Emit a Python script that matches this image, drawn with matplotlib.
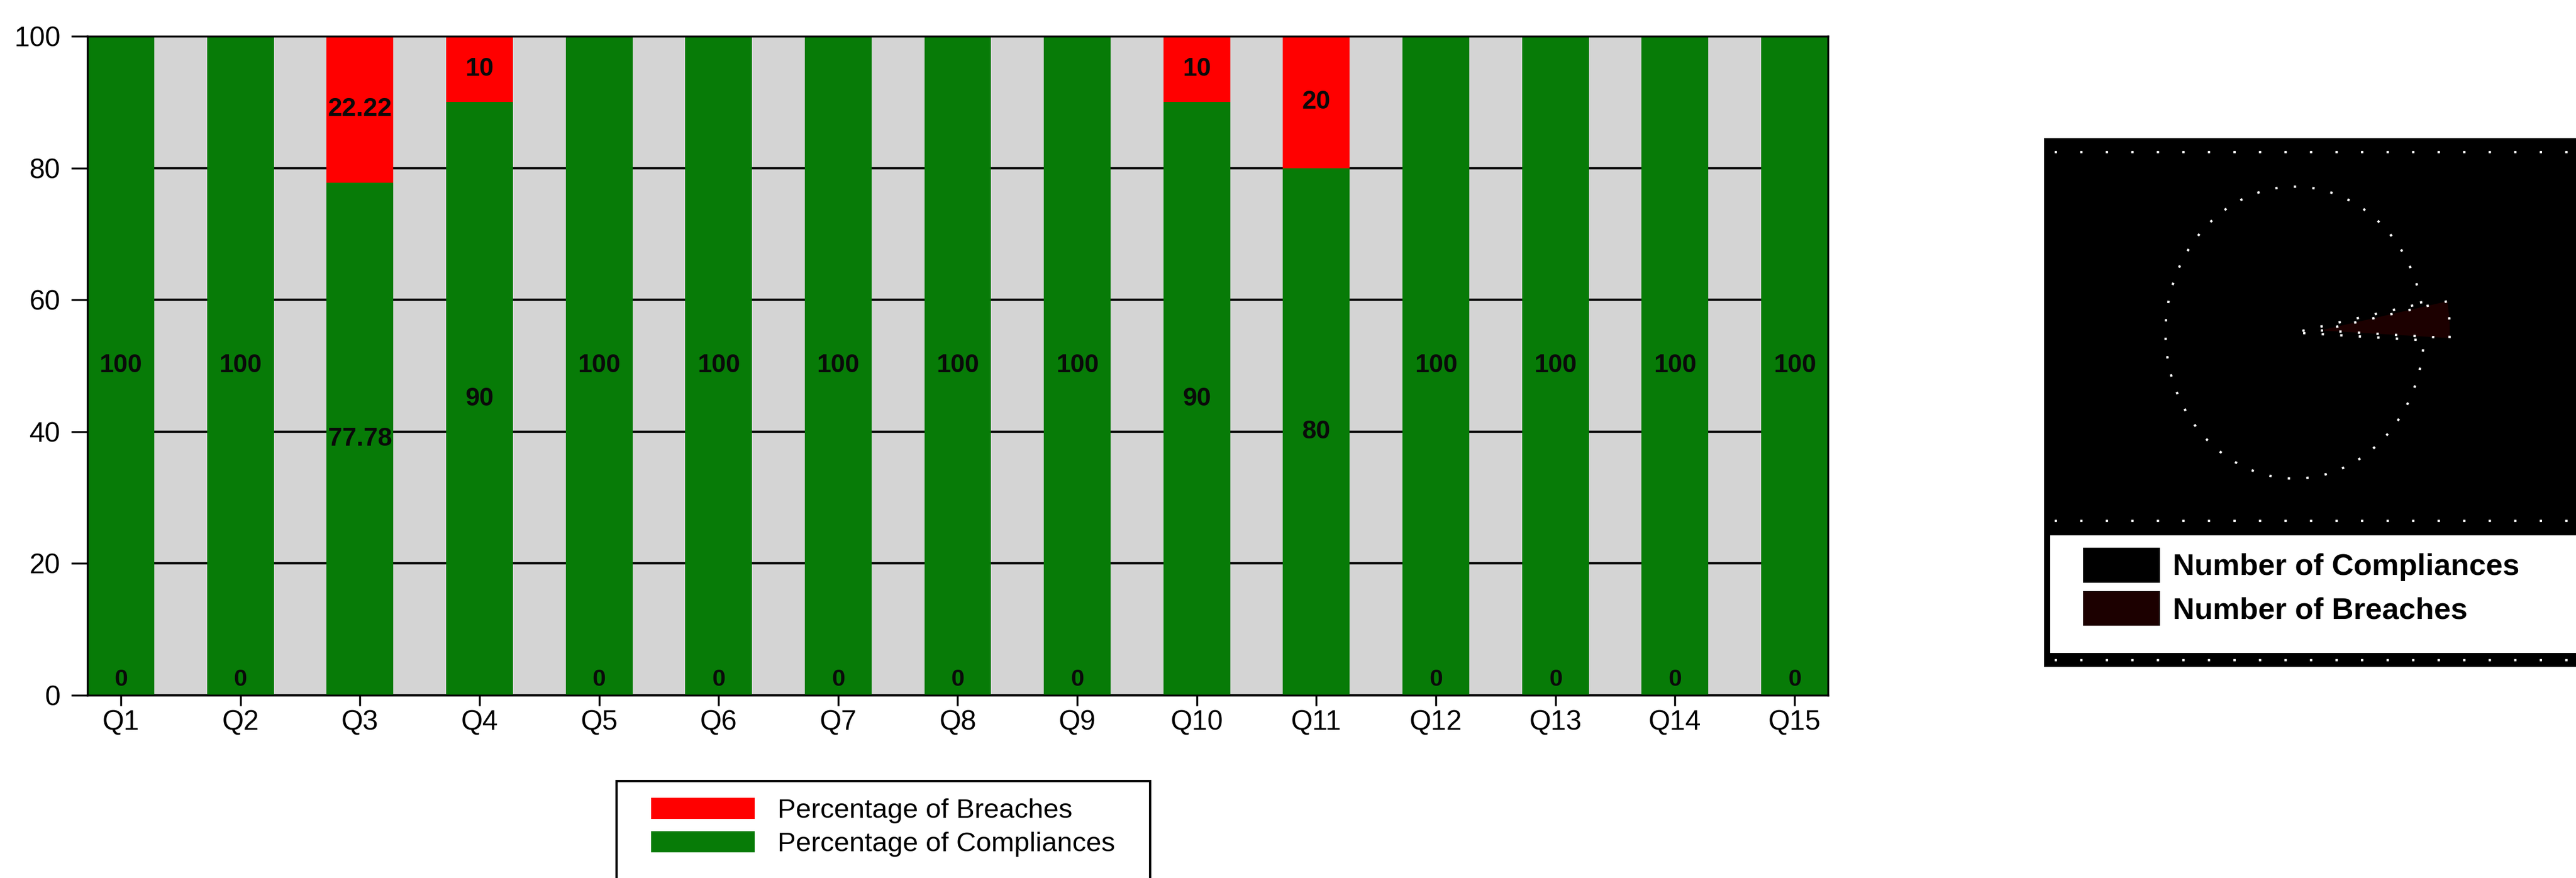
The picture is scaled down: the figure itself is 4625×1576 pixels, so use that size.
import matplotlib
matplotlib.use("Agg")
import matplotlib.pyplot as plt
from matplotlib.patches import Patch, Rectangle

# ================================
# DATA
# ================================

QUESTIONS = ["Q1", "Q2", "Q3", "Q4", "Q5", "Q6", "Q7", "Q8", "Q9", "Q10",
             "Q11", "Q12", "Q13", "Q14", "Q15"]
PCT_COMPLIANCES = [100, 100, 77.78, 90, 100, 100, 100, 100, 100, 90,
                   80, 100, 100, 100, 100]
PCT_BREACHES = [0, 0, 22.22, 10, 0, 0, 0, 0, 0, 10,
                20, 0, 0, 0, 0]
Y_TICKS = [0, 20, 40, 60, 80, 100]

PIE_LABELS = ["Number of Compliances", "Number of Breaches"]
PIE_COUNTS = [143, 6]

GREEN = "#077b07"
RED = "#ff0000"
GRAY_BG = "#d4d4d4"

W, H = 4625, 1576
plt.rcParams["font.family"] = ["Liberation Sans", "DejaVu Sans"]

fig = plt.figure(figsize=(W / 100, H / 100), dpi=100)


def fx(px):
    return px / W


def fy(py):
    # pixel row measured from the top -> figure fraction from the bottom
    return 1 - py / H


# ================================
# STACKED BAR CHART
# ================================

ax = fig.add_axes([fx(157), fy(1248), fx(3282 - 157), (1248 - 65) / H])
ax.set_facecolor(GRAY_BG)

x = list(range(len(QUESTIONS)))
bar_w = 0.559
green_bars = ax.bar(x, PCT_COMPLIANCES, bar_w, color=GREEN, zorder=2,
                    label="Percentage of Compliances")
red_bars = ax.bar(x, PCT_BREACHES, bar_w, bottom=PCT_COMPLIANCES, color=RED,
                  zorder=2, label="Percentage of Breaches")

for xi, c, b in zip(x, PCT_COMPLIANCES, PCT_BREACHES):
    ax.text(xi, c / 2, f"{c:g}", ha="center", va="center", fontsize=33,
            fontweight="bold", color="#0a0a0a", zorder=3)
    if b > 0:
        ax.text(xi, c + b / 2, f"{b:g}", ha="center", va="center", fontsize=33,
                fontweight="bold", color="#0a0a0a", zorder=3)
    else:
        ax.text(xi, 2.4, f"{b:g}", ha="center", va="center", fontsize=31,
                fontweight="bold", color="#0a0a0a", zorder=3)

ax.set_xlim(-bar_w / 2, len(QUESTIONS) - 1 + bar_w / 2)
ax.set_ylim(0, 100)
ax.set_xticks(x)
ax.set_xticklabels(QUESTIONS)
ax.set_yticks(Y_TICKS)
ax.yaxis.grid(True, color="black", linewidth=3)
ax.set_axisbelow(True)
ax.tick_params(axis="y", length=21, width=2.5, pad=14, labelsize=36)
ax.tick_params(axis="x", length=14, width=2.5, pad=5, labelsize=36)
for sp in ax.spines.values():
    sp.set_linewidth(2.5)
    sp.set_color("black")
    sp.set_zorder(4)

# legend box under the bars (runs off the bottom edge)
fig.patches.append(Rectangle((fx(1107), fy(1402) - 0.2), fx(2065 - 1107), 0.2,
                             transform=fig.transFigure, facecolor="white",
                             edgecolor="black", linewidth=3))
fig.legend(handles=[red_bars, green_bars],
           labels=["Percentage of Breaches", "Percentage of Compliances"],
           loc="upper left", bbox_to_anchor=(fx(1169), fy(1432)),
           frameon=False, fontsize=35.5, borderpad=0, borderaxespad=0,
           handlelength=3.77, handleheight=0.82, handletextpad=0.84,
           labelspacing=0.27)

# ================================
# PIE PANEL (rendered black)
# ================================

px0, px1, py0, py1 = 3670, W, 248, 1197      # panel box in pixels
cx, cy, rx, ry = 4120, 597, 232, 262         # pie ellipse in pixels

ax2 = fig.add_axes([fx(px0), fy(py1), fx(px1 - px0), (py1 - py0) / H])
wedges, _ = ax2.pie(PIE_COUNTS[::-1], colors=["#1c0000", "black"],
                    startangle=-3, explode=[0.2, 0], radius=1,
                    wedgeprops=dict(edgecolor="white", linewidth=3,
                                    linestyle=(0, (1, 7))))
# unit pie stretched into the measured ellipse
ax2.set_aspect("auto")
ax2.set_xlim((px0 - cx) / rx, (px1 - cx) / rx)
ax2.set_ylim((cy - py1) / ry, (cy - py0) / ry)
ax2.set_facecolor("black")
ax2.set_frame_on(True)
ax2.set_xticks([])
ax2.set_yticks([])
for sp in ax2.spines.values():
    sp.set_visible(False)


def ay(py):
    return (py1 - py) / (py1 - py0)


def ax_(px):
    return (px - px0) / (px1 - px0)


for yy in [273, 935, 1185]:
    ax2.axhline(ax2.get_ylim()[0] + ay(yy) * (ax2.get_ylim()[1] - ax2.get_ylim()[0]),
                0.02, 0.99, color="white", linewidth=3, linestyle=(0, (1, 10)))

ax2.add_patch(Rectangle((ax_(3681), ay(1172)), 1.0, ay(961) - ay(1172),
                        transform=ax2.transAxes, facecolor="white",
                        edgecolor="none", zorder=3))
ax2.legend(handles=[Patch(facecolor="black"), Patch(facecolor="#1c0000")],
           labels=PIE_LABELS, loc="upper left",
           bbox_to_anchor=(ax_(3740), ay(983)), bbox_transform=ax2.transAxes,
           frameon=False, borderpad=0, borderaxespad=0,
           prop=dict(size=39, weight="bold"),
           handlelength=2.54, handleheight=1.4, handletextpad=0.44,
           labelspacing=0.28).set_zorder(5)

fig.savefig("out.png", dpi=100)
